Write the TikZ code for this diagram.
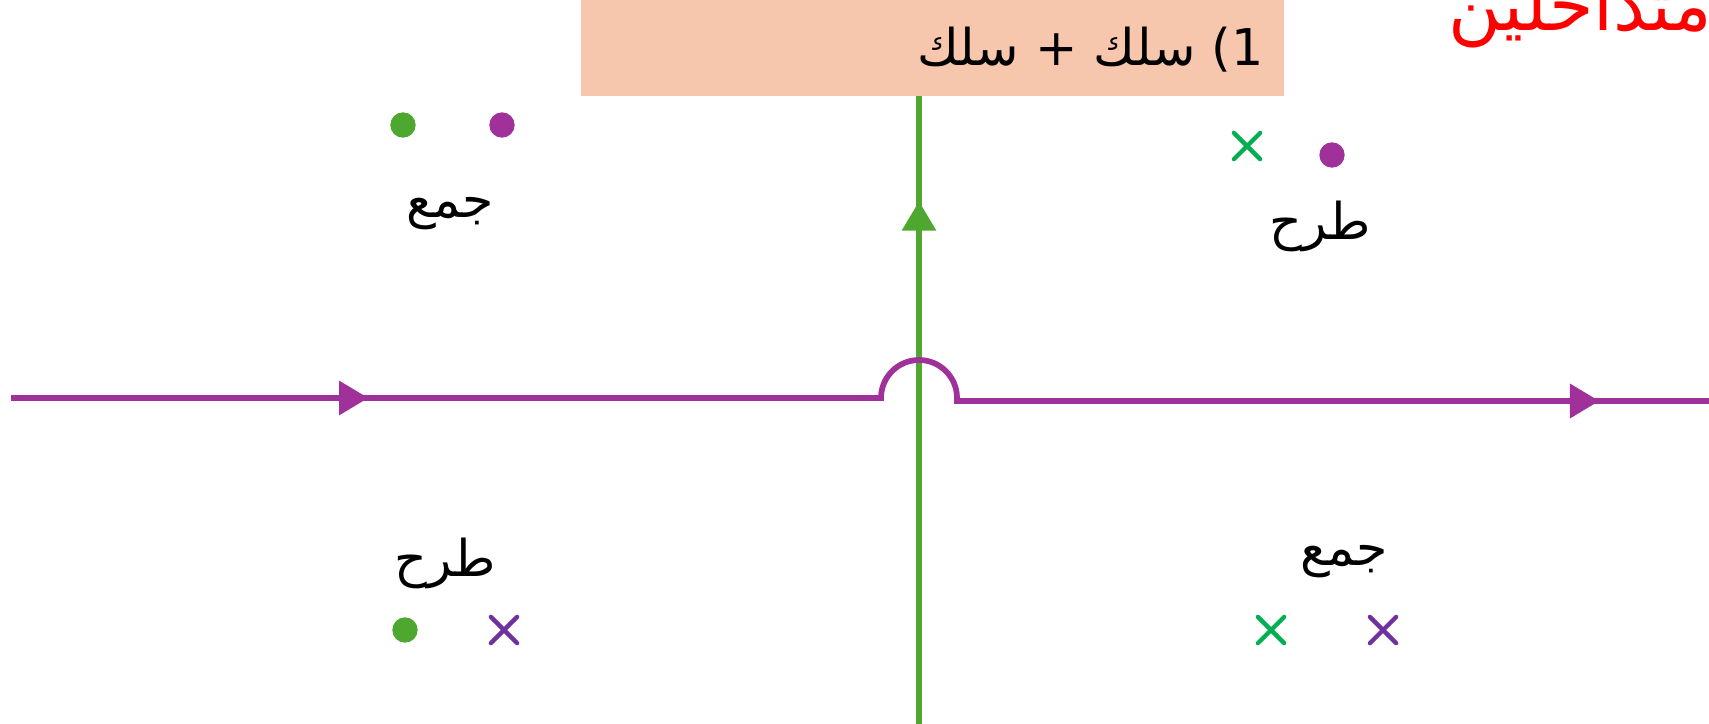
\documentclass[tikz,border=0pt]{standalone}
\usepackage{fontspec}
\usetikzlibrary{arrows.meta,decorations.markings,shapes.misc}
\TeXXeTstate=1
\newfontfamily\arabicfont[Script=Arabic]{DejaVu Sans}
\definecolor{wirep}{HTML}{A0309A}
\definecolor{wireg}{HTML}{4EA72E}
\definecolor{crossg}{HTML}{00B050}
\definecolor{crossp}{HTML}{7030A0}
\definecolor{boxfill}{HTML}{F6C6AD}
\tikzset{
  dotg/.style={circle,fill=wireg,inner sep=0pt,minimum size=19pt},
  dotp/.style={circle,fill=wirep,inner sep=0pt,minimum size=19pt},
  crs/.style={cross out,draw=#1,line width=3.2pt,line cap=round,inner sep=0pt,minimum size=16.5pt},
  lbl/.style={font=\arabicfont\fontsize{38}{44}\selectfont,inner sep=0pt},
  wire/.style={line width=#1,draw},
}
\begin{document}
\begin{tikzpicture}[x=0.75pt,y=-0.75pt]
\useasboundingbox (0,0) rectangle (1709,724);
\clip (0,0) rectangle (1709,724);
% header box
\fill[boxfill] (581,0) rectangle (1284,96);
\node[font=\arabicfont\fontsize{38}{44}\selectfont,anchor=east,inner sep=0pt] (hdr) at (1264,50) {\beginR 1) سلك + سلك\endR};
% red title (clipped at the top edge, as in the reference)
\node[font=\arabicfont\fontsize{54}{60}\selectfont,text=red,anchor=base east,inner sep=0pt] (ttl) at (1712,31) {\beginR متداخلين\endR};
% coordinates
\coordinate (gb) at (919,724);
\coordinate (gt) at (919,96);
\coordinate (pl) at (11,398);
\coordinate (pa) at (881,398);
\coordinate (pb) at (957,401);
\coordinate (pr) at (1709,401);
% green wire
\draw[wire=3.9pt,wireg,
  postaction={decorate,decoration={markings,
    mark=at position 392pt with {\arrow[wireg]{Triangle[length=22pt,width=25pt]}}}}]
  (gb) -- (gt);
% purple wire with hop
\draw[wire=4.3pt,wirep,
  postaction={decorate,decoration={markings,
    mark=at position 268pt with {\arrow[wirep]{Triangle[length=22pt,width=25pt]}},
    mark=at position 1226pt with {\arrow[wirep]{Triangle[length=22pt,width=25pt]}}}}]
  (pl) -- (pa) arc[start angle=180,end angle=360,radius=38] -- (pb) -- (pr);
% top-left
\node[dotg] (d1) at (403,125) {};
\node[dotp] (d2) at (502,125) {};
\node[lbl] (l1) at (450,214) {\beginR جمع\endR};
% top-right
\node[crs=crossg] (c1) at (1247,146) {};
\node[dotp] (d3) at (1332,155) {};
\node[lbl] (l2) at (1320,226) {\beginR طرح\endR};
% bottom-left
\node[lbl] (l3) at (445,563) {\beginR طرح\endR};
\node[dotg] (d4) at (405,630) {};
\node[crs=crossp] (c2) at (504,630) {};
% bottom-right
\node[lbl] (l4) at (1344,562) {\beginR جمع\endR};
\node[crs=crossg] (c3) at (1271,630) {};
\node[crs=crossp] (c4) at (1383,630) {};
\end{tikzpicture}
\end{document}
